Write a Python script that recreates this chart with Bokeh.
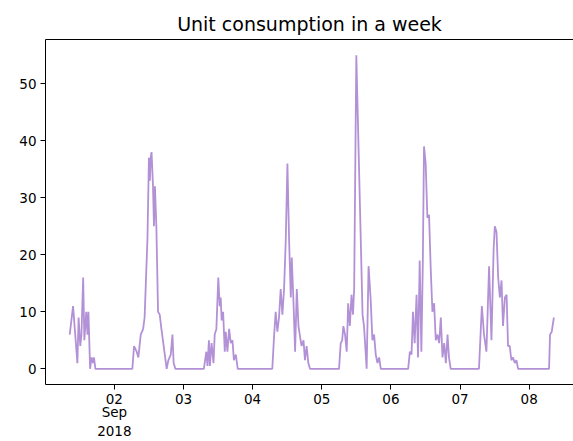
import pandas as pd
from bokeh.plotting import figure
from bokeh.models import Range1d, FixedTicker, LinearAxis
from bokeh.embed import file_html
from bokeh.resources import INLINE

# ---- data: (time, units), one list pair per day ----
sep01_times = ["09-01 08:30", "09-01 09:40", "09-01 11:10", "09-01 11:35", "09-01 12:10", "09-01 12:35",
               "09-01 13:10", "09-01 13:35", "09-01 14:15", "09-01 14:40", "09-01 15:00", "09-01 15:35",
               "09-01 16:05", "09-01 16:35", "09-01 16:55", "09-01 17:25"]
sep01_values = [6, 11, 1, 9, 4, 6, 16, 5, 10, 6, 10, 0, 2, 1, 2, 0]

sep02_times = ["09-02 06:15", "09-02 06:50", "09-02 07:45", "09-02 08:20", "09-02 09:10", "09-02 10:00",
               "09-02 10:30", "09-02 11:30", "09-02 12:00", "09-02 12:20", "09-02 12:35", "09-02 12:55",
               "09-02 13:25", "09-02 13:45", "09-02 14:05", "09-02 14:35", "09-02 15:10", "09-02 15:45",
               "09-02 16:20", "09-02 18:10", "09-02 18:45", "09-02 19:35", "09-02 20:10", "09-02 20:35",
               "09-02 21:10"]
sep02_values = [0, 4, 3, 2, 6, 7, 9, 23, 37, 33, 37, 38, 32, 25, 32, 25, 10, 9.5, 7, 0, 1.5, 2.5, 6, 1, 0]

sep03_times = ["09-03 07:05", "09-03 07:55", "09-03 08:20", "09-03 08:50", "09-03 09:10", "09-03 09:45",
               "09-03 10:25", "09-03 10:50", "09-03 11:25", "09-03 12:05", "09-03 12:35", "09-03 12:55",
               "09-03 13:15", "09-03 13:45", "09-03 14:20", "09-03 14:40", "09-03 15:15", "09-03 15:50",
               "09-03 16:25", "09-03 17:00", "09-03 17:30", "09-03 18:10", "09-03 18:50"]
sep03_values = [0, 3, 0.5, 5, 0.5, 4.5, 1, 6, 7, 16, 11, 12.5, 8.5, 10, 3, 6.5, 3, 7, 4.5, 5, 1.5, 2.5, 0]

sep04_times = ["09-04 06:50", "09-04 07:25", "09-04 08:00", "09-04 08:35", "09-04 09:10", "09-04 09:45",
               "09-04 10:20", "09-04 10:55", "09-04 11:30", "09-04 12:05", "09-04 12:40", "09-04 13:15",
               "09-04 13:35", "09-04 14:10", "09-04 14:45", "09-04 15:20", "09-04 15:55", "09-04 16:30",
               "09-04 17:00", "09-04 17:40", "09-04 18:10", "09-04 18:45", "09-04 19:20", "09-04 19:55"]
sep04_values = [0, 5.5, 10, 6.5, 9, 14, 9.5, 14, 22.5, 36, 22.5, 12.5, 19.5, 12, 3, 14, 7.5, 5.5,
                4, 5, 1.5, 4, 1, 0]

sep05_times = ["09-05 06:00", "09-05 06:35", "09-05 07:05", "09-05 07:30", "09-05 08:05", "09-05 08:40",
               "09-05 09:10", "09-05 09:45", "09-05 10:20", "09-05 10:50", "09-05 11:15", "09-05 12:00",
               "09-05 14:10", "09-05 14:40", "09-05 15:35", "09-05 16:15", "09-05 17:00", "09-05 17:35",
               "09-05 18:10", "09-05 18:45", "09-05 19:20", "09-05 19:55", "09-05 20:30"]
sep05_values = [0, 4.5, 5, 7.5, 6, 3, 11.5, 7.5, 13, 9.5, 14, 55, 9.5, 7.5, 0, 18, 12, 5, 6, 2.5, 1, 2, 0]

sep06_times = ["09-06 06:00", "09-06 06:35", "09-06 07:10", "09-06 07:40", "09-06 08:15", "09-06 08:55",
               "09-06 09:25", "09-06 10:00", "09-06 10:35", "09-06 11:05", "09-06 11:30", "09-06 12:05",
               "09-06 12:40", "09-06 13:15", "09-06 13:50", "09-06 14:25", "09-06 15:00", "09-06 15:35",
               "09-06 16:10", "09-06 16:45", "09-06 17:20", "09-06 17:55", "09-06 18:30", "09-06 19:05",
               "09-06 19:40", "09-06 20:10", "09-06 20:45"]
sep06_values = [0, 3, 2.5, 10, 4.5, 13, 2, 19, 3, 18.5, 39, 36, 26.5, 27, 17.5, 10, 11.5, 5, 6, 4.5,
                9, 2, 4.5, 1, 6, 2, 0]

sep07_times = ["09-07 06:35", "09-07 07:35", "09-07 08:20", "09-07 09:10", "09-07 10:05", "09-07 10:55",
               "09-07 11:40", "09-07 12:05", "09-07 12:40", "09-07 13:15", "09-07 13:50", "09-07 14:25",
               "09-07 14:55", "09-07 15:35", "09-07 16:10", "09-07 16:40", "09-07 17:15", "09-07 17:50",
               "09-07 18:25", "09-07 19:00", "09-07 19:35", "09-07 20:10"]
sep07_values = [0, 11, 6, 3, 18, 5, 21, 25, 24, 16, 12.5, 15.5, 7.5, 12.5, 13, 4, 4, 1.5, 2, 1, 1.5, 0]

sep08_times = ["09-08 06:55", "09-08 07:15", "09-08 07:50", "09-08 08:35"]
sep08_values = [0, 6, 6.5, 9]

tick_days = ["2018-09-01", "2018-09-02", "2018-09-03", "2018-09-04", "2018-09-05",
             "2018-09-06", "2018-09-07", "2018-09-08"]
tick_labels = ["", "02", "03", "04", "05", "06", "07", "08"]
context_label = "Sep\n2018"
y_ticks = [0, 10, 20, 30, 40, 50]

all_times = (sep01_times + sep02_times + sep03_times + sep04_times +
             sep05_times + sep06_times + sep07_times + sep08_times)
all_values = (sep01_values + sep02_values + sep03_values + sep04_values +
              sep05_values + sep06_values + sep07_values + sep08_values)

origin = pd.Timestamp("2018-09-01")
ts = pd.to_datetime(["2018-" + t for t in all_times])
hours = list((ts - origin).total_seconds() / 3600.0)
tick_hours = [int((pd.Timestamp(d) - origin).total_seconds() // 3600) for d in tick_days]

FONT = "DejaVu Sans"
TICK_FS = "13.5px"
ymax = max(all_values)
span_h = hours[-1] - hours[0]
x0 = hours[0] - 0.05 * span_h

p = figure(width=573, height=441, output_backend="svg", toolbar_location=None,
           x_range=Range1d(x0, x0 + 183.3),
           y_range=Range1d(-0.05 * ymax, ymax * 1.05),
           min_border_left=45, min_border_right=0, min_border_top=39, min_border_bottom=57)

p.line(hours, all_values, line_color="#b391d6", line_width=1.8)

p.grid.visible = False
p.outline_line_color = None
p.background_fill_color = "white"
p.border_fill_color = "white"

p.title.text = "Unit consumption in a week"
p.title.align = "center"
p.title.text_font = FONT
p.title.text_font_size = "19px"
p.title.text_font_style = "normal"
p.title.text_color = "#000000"
p.title.standoff = 10

xa = p.xaxis[0]
xa.ticker = FixedTicker(ticks=tick_hours)
xa.major_label_overrides = {h: lab for h, lab in zip(tick_hours, tick_labels)}
xa.minor_tick_line_color = None
xa.major_tick_out = 5
xa.major_tick_in = 0
xa.major_label_text_font = FONT
xa.major_label_text_font_size = TICK_FS
xa.major_label_text_color = "#000000"
xa.axis_line_color = "#000000"
xa.major_tick_line_color = "#000000"
xa.major_label_standoff = 4

# second row of the date axis: month / year context under the first tick
xa2 = LinearAxis(ticker=FixedTicker(ticks=[tick_hours[1]]),
                 major_label_overrides={tick_hours[1]: context_label},
                 axis_line_color=None, major_tick_line_color=None, minor_tick_line_color=None,
                 major_tick_out=0, major_tick_in=0, major_label_standoff=-3,
                 major_label_text_font=FONT, major_label_text_font_size=TICK_FS,
                 major_label_text_color="#000000")
p.add_layout(xa2, "below")

ya = p.yaxis[0]
ya.ticker = FixedTicker(ticks=y_ticks)
ya.minor_tick_line_color = None
ya.major_tick_out = 5
ya.major_tick_in = 0
ya.major_label_text_font = FONT
ya.major_label_text_font_size = TICK_FS
ya.major_label_text_color = "#000000"
ya.axis_line_color = "#000000"
ya.major_tick_line_color = "#000000"
ya.major_label_standoff = 4

top = LinearAxis(ticker=FixedTicker(ticks=[]), axis_line_color="#000000",
                 major_tick_line_color=None, minor_tick_line_color=None,
                 major_label_text_font_size="0px")
p.add_layout(top, "above")

open("out.html", "w").write(file_html(p, INLINE))
